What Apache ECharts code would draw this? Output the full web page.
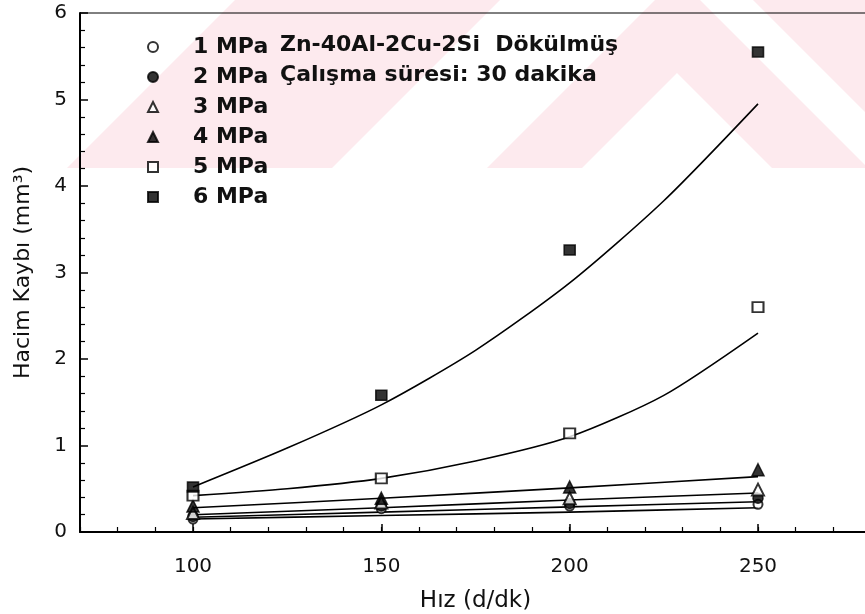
<!DOCTYPE html>
<html>
<head>
<meta charset="utf-8">
<script src="https://cdn.jsdelivr.net/npm/echarts@6/dist/echarts.min.js"></script>
<style>
  html, body { margin: 0; padding: 0; background: #fff; }
  #chart { width: 865px; height: 614px; }
</style>
</head>
<body>
<div id="chart"></div>
<script>
// measured points
var speeds = [100, 150, 200, 250];
var mpa1 = [0.15, 0.27, 0.30, 0.32];
var mpa2 = [0.18, 0.30, 0.33, 0.39];
var mpa3 = [0.22, 0.34, 0.39, 0.49];
var mpa4 = [0.30, 0.39, 0.52, 0.72];
var mpa5 = [0.42, 0.62, 1.14, 2.60];
var mpa6 = [0.52, 1.58, 3.26, 5.55];

// fitted curves
var fitX = [100, 150, 200, 250];
var fit1 = [0.15, 0.19, 0.23, 0.28];
var fit2 = [0.17, 0.23, 0.29, 0.35];
var fit3 = [0.20, 0.28, 0.37, 0.45];
var fit4 = [0.28, 0.39, 0.51, 0.64];
var fitXc = [100, 125, 150, 175, 200, 225, 250];
var fit5 = [0.42, 0.50, 0.62, 0.82, 1.10, 1.58, 2.30];
var fit6 = [0.52, 0.97, 1.47, 2.10, 2.88, 3.83, 4.95];

var names = ["1 MPa", "2 MPa", "3 MPa", "4 MPa", "5 MPa", "6 MPa"];
var xLabels = [100, 150, 200, 250];

var chart = echarts.init(document.getElementById("chart"));

function pairs(xs, ys) {
  return xs.map(function (x, i) { return [x, ys[i]]; });
}

var points = [mpa1, mpa2, mpa3, mpa4, mpa5, mpa6];
var fits = [
  pairs(fitX, fit1), pairs(fitX, fit2), pairs(fitX, fit3),
  pairs(fitX, fit4), pairs(fitXc, fit5), pairs(fitXc, fit6)
];
var symbols = ["emptyCircle", "circle", "emptyTriangle", "triangle", "emptyRect", "rect"];
var sizes = [9, 10, 12, 12, [11, 10], [11, 10]];

var series = [];
fits.forEach(function (d) {
  series.push({
    type: "line",
    data: d,
    smooth: 0.25,
    showSymbol: false,
    silent: true,
    lineStyle: { color: "#000", width: 1.6 },
    z: 2
  });
});
points.forEach(function (p, i) {
  series.push({
    name: names[i],
    type: "scatter",
    data: pairs(speeds, p),
    symbol: symbols[i],
    symbolSize: sizes[i],
    itemStyle: { color: "#000", borderColor: "#000", borderWidth: 1.5 },
    z: 3
  });
});

// pink watermark stripes behind the plot
var pink = "#fdeaee";
var stripes = [
  [[235, 0], [500, 0], [332, 168], [67, 168]],
  [[655, 0], [700, 0], [868, 168], [772, 168], [677, 73], [582, 168], [487, 168]],
  [[753, 0], [865, 0], [865, 112]]
];

var option = {
  animation: false,
  backgroundColor: "#fff",
  textStyle: { fontFamily: "DejaVu Sans", color: "#111" },
  graphic: stripes.map(function (pts) {
    return { type: "polygon", shape: { points: pts }, style: { fill: pink }, z: -10, silent: true };
  }).concat([
    {
      type: "text", left: 280, top: 34, z: 10,
      style: { text: "Zn-40Al-2Cu-2Si  Dökülmüş", font: "bold 22px 'DejaVu Sans'", fill: "#111" }
    },
    {
      type: "text", left: 280, top: 64, z: 10,
      style: { text: "Çalışma süresi: 30 dakika", font: "bold 22px 'DejaVu Sans'", fill: "#111" }
    }
  ]),
  legend: {
    data: names,
    orient: "vertical",
    left: 142,
    top: 31,
    itemWidth: 10,
    itemHeight: 10,
    itemGap: 8,
    textStyle: {
      fontFamily: "DejaVu Sans",
      fontWeight: "bold",
      fontSize: 22,
      lineHeight: 22,
      color: "#111",
      padding: [0, 0, 0, 30]
    }
  },
  grid: {
    left: 80,
    right: -6,
    top: 13,
    bottom: 82,
    outerBoundsMode: "none",
    show: true,
    borderColor: "#000",
    borderWidth: 1
  },
  xAxis: [
    {
      type: "value",
      min: 70,
      max: 280,
      name: "Hız (d/dk)",
      nameLocation: "middle",
      nameGap: 58,
      nameTextStyle: { fontFamily: "DejaVu Sans", fontSize: 23, color: "#111" },
      axisLine: { show: true, lineStyle: { color: "#000", width: 2 } },
      axisTick: { show: true, inside: true, length: 8, customValues: xLabels, lineStyle: { color: "#000", width: 1.5 } },
      axisLabel: { customValues: xLabels, fontSize: 20, color: "#111", margin: 25 },
      splitLine: { show: false }
    },
    {
      type: "value",
      min: 70,
      max: 280,
      interval: 10,
      position: "bottom",
      axisLine: { show: false },
      axisTick: { show: true, inside: true, length: 5, lineStyle: { color: "#000", width: 1.2 } },
      axisLabel: { show: false },
      splitLine: { show: false }
    }
  ],
  yAxis: {
    type: "value",
    min: 0,
    max: 6,
    interval: 1,
    name: "Hacim Kaybı (mm³)",
    nameLocation: "middle",
    nameGap: 46,
    nameTextStyle: { fontFamily: "DejaVu Sans", fontSize: 22, color: "#111" },
    axisLine: { show: true, lineStyle: { color: "#000", width: 2 } },
    axisTick: { show: true, inside: true, length: 8, lineStyle: { color: "#000", width: 1.5 } },
    minorTick: { show: true, splitNumber: 5, length: 5, lineStyle: { color: "#000", width: 1.2 } },
    axisLabel: { fontSize: 20, color: "#111", margin: 13 },
    splitLine: { show: false },
    minorSplitLine: { show: false }
  },
  series: series
};

chart.setOption(option);
</script>
</body>
</html>
